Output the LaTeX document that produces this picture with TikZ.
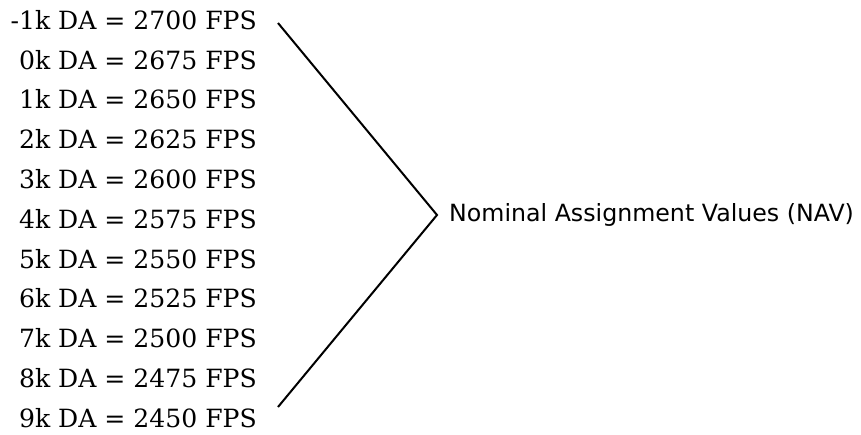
\documentclass[tikz,border=0pt]{standalone}
\usepackage{fontspec}
\newfontfamily\navfont{DejaVu Sans}
\newfontfamily\rowfont{DejaVu Serif}
\begin{document}
\begin{tikzpicture}[x=1pt,y=-1pt,
  rowtext/.style={anchor=base east,inner sep=0pt,font=\rowfont\fontsize{25.1}{30}\selectfont},
  navtext/.style={anchor=base west,inner sep=0pt,font=\navfont\fontsize{23.7}{28}\selectfont},
  bracket/.style={line width=2pt,line join=miter}]
\useasboundingbox (0,0) rectangle (861,434);
\foreach \t [count=\i from 0] in {-1k DA = 2700 FPS,0k DA = 2675 FPS,1k DA = 2650 FPS,2k DA = 2625 FPS,3k DA = 2600 FPS,4k DA = 2575 FPS,5k DA = 2550 FPS,6k DA = 2525 FPS,7k DA = 2500 FPS,8k DA = 2475 FPS,9k DA = 2450 FPS}
  \node[rowtext] (r\i) at (257,{29.3+39.8*\i}) {\t};
\node[navtext] (nav) at (449,221.7) {Nominal Assignment Values (NAV)};
\coordinate (top) at (278,23);
\coordinate (apex) at (437,215);
\coordinate (bot) at (278,407);
\draw[bracket] (top) -- (apex) -- (bot);
\end{tikzpicture}
\end{document}
